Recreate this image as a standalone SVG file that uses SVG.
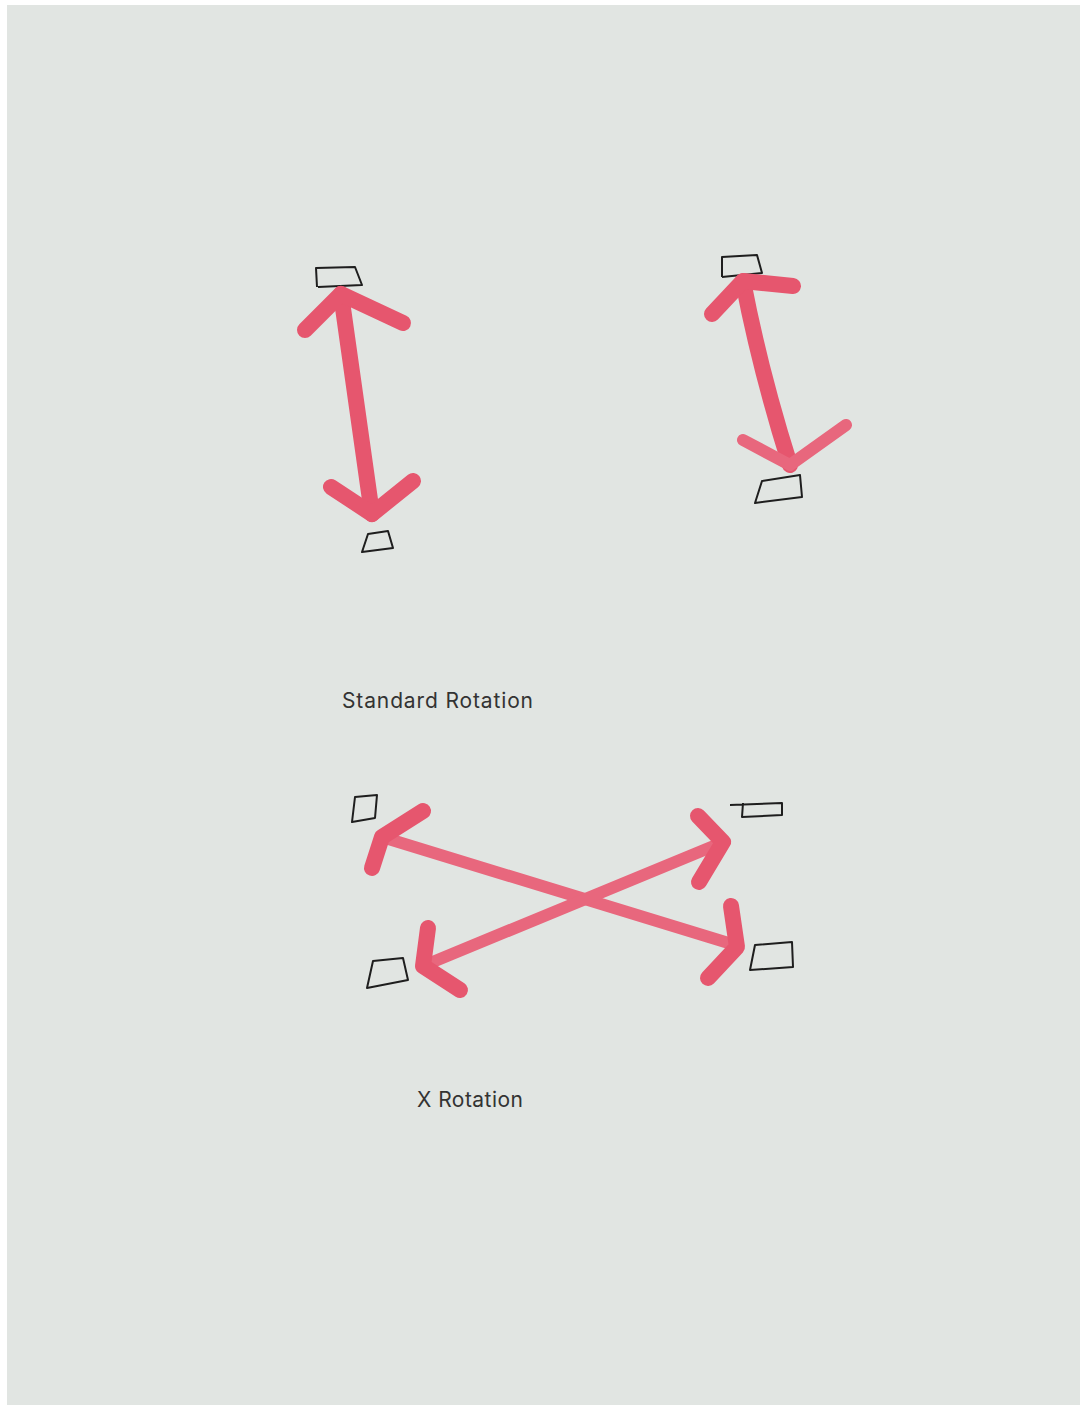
<svg xmlns="http://www.w3.org/2000/svg" width="1083" height="1410" viewBox="0 0 1083 1410">
<style>
.box{fill:none;stroke:#1e1e1e;stroke-width:2;stroke-linejoin:round}
.arrow{fill:none;stroke:#e6566e;stroke-width:16;stroke-linecap:round;stroke-linejoin:round}
.arrow2{fill:none;stroke:#e8677d;stroke-width:12;stroke-linecap:round;stroke-linejoin:round}
.label{font-family:Inter,"Liberation Sans",sans-serif;font-size:21px;fill:#333}
</style>
<rect width="1083" height="1410" fill="#ffffff"/>
<rect x="7" y="5" width="1073" height="1400" fill="#e1e5e2"/>
<g id="box-std-tl"><path class="box" d="M317,287 L316,268 L355,267 L362,285 L318,287"/></g>
<g id="box-std-bl"><path class="box" d="M362,552 L368,534 L388,531 L393,548 Z"/></g>
<g id="box-std-tr"><path class="box" d="M722,277 L722,257 L757,255 L762,273 L722,277"/></g>
<g id="box-std-br"><path class="box" d="M755,503 L762,481 L800,475 L802,497 Z"/></g>
<g id="box-x-tl"><path class="box" d="M352,822 L355,797 L377,795 L375,818 Z"/></g>
<g id="box-x-tr"><path class="box" d="M730,805 L782,803 L782,815 L742,817 L743,803"/></g>
<g id="box-x-bl"><path class="box" d="M367,988 L373,961 L403,958 L408,980 Z"/></g>
<g id="box-x-br"><path class="box" d="M750,970 L755,945 L792,942 L793,967 Z"/></g>
<g id="connectors">
<path class="arrow" d="M341,294 L372,514"/>
<path class="arrow" d="M305,330 L341,294 L403,323"/>
<path class="arrow" d="M331,487 L372,514 L413,481"/>
<path class="arrow" d="M743,281 Q760,370 790,465"/>
<path class="arrow" d="M712,314 L743,281 L793,286"/>
<path class="arrow2" d="M743,440 L790,465 L846,425"/>
<path class="arrow2" d="M382,837 L735,945"/>
<path class="arrow" d="M423,811 L382,837 L372,868"/>
<path class="arrow" d="M731,906 L737,947 L708,978"/>
<path class="arrow2" d="M423,966 L721,843"/>
<path class="arrow" d="M428,928 L423,966 L460,990"/>
<path class="arrow" d="M698,816 L723,842 L699,882"/>
</g>
<text class="label" x="342" y="708" textLength="191">Standard Rotation</text>
<text class="label" x="417" y="1107" textLength="106">X Rotation</text>
</svg>
